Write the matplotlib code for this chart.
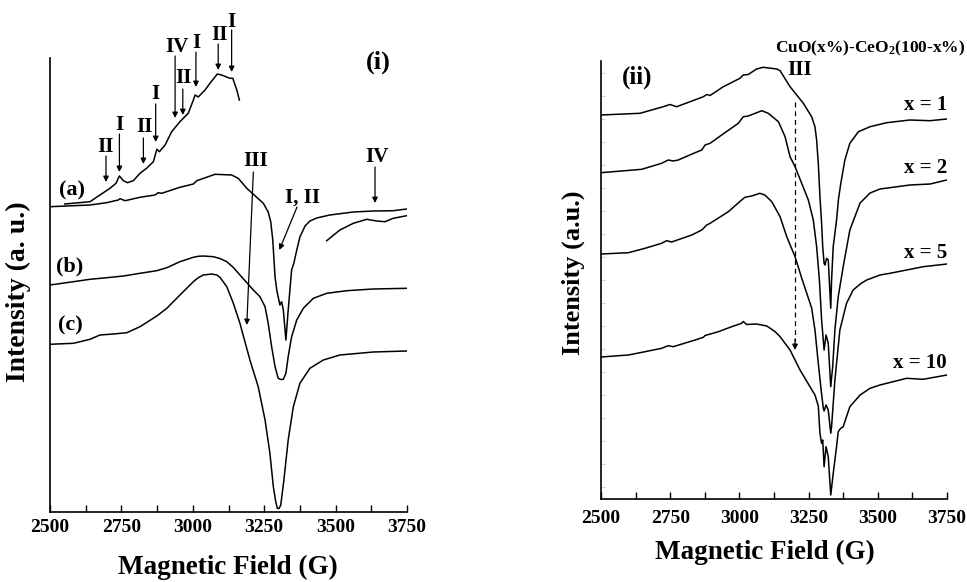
import matplotlib
matplotlib.use('Agg')
import matplotlib.pyplot as plt
from matplotlib.ticker import MultipleLocator

plt.rcParams['font.family'] = ['Liberation Serif', 'DejaVu Serif']
plt.rcParams['font.weight'] = 'bold'
plt.rcParams['mathtext.fontset'] = 'custom'
plt.rcParams['mathtext.rm'] = 'Liberation Serif:bold'
plt.rcParams['mathtext.it'] = 'Liberation Serif:bold'
plt.rcParams['mathtext.bf'] = 'Liberation Serif:bold'

# ---------------- data: panel (i) ----------------
a_field = [2500, 2640, 2698, 2739, 2745, 2763, 2815, 2868, 2879, 2891, 2955, 3002, 3014, 3078, 3136, 3159,
           3189, 3247, 3264, 3273, 3280, 3288, 3294, 3299, 3305, 3311, 3317, 3326, 3334, 3340, 3346, 3354,
           3364, 3375, 3393, 3410, 3434, 3480, 3562, 3632, 3702, 3749]
a_int = [305.3, 307, 309.3, 312, 313.3, 311.3, 314.7, 317, 319.3, 318.7, 324.7, 328, 331.3, 337.7, 337, 333.7,
         323.7, 308.7, 300, 290, 272, 235, 222, 215, 207, 210.3, 202, 172, 202, 222, 242, 249,
         262, 275, 286, 291, 294, 297, 300, 301, 301.3, 303]

ins_lo_field = [2552, 2640, 2675, 2710, 2731, 2743, 2757, 2771, 2792, 2815, 2838, 2862, 2874, 2883, 2903,
                2926, 2955, 2984, 3002, 3008, 3019, 3043, 3060, 3086, 3101, 3130, 3140, 3154, 3163]
ins_lo_int = [308, 310.3, 317, 323.7, 328.7, 336, 331.3, 329.3, 331.3, 338.7, 343.7, 350.3, 362.7, 360.3, 367,
              380.3, 390.3, 398.7, 412, 417, 415, 422, 428.7, 438, 437, 433.7, 433.7, 422, 412]

ins_hi_field = [3469, 3515, 3562, 3609, 3644, 3673, 3702, 3749]
ins_hi_int = [271.3, 282, 288.7, 292.7, 291, 290.3, 293.7, 296.3]

b_field = [2500, 2582, 2640, 2699, 2757, 2815, 2874, 2909, 2955, 3002, 3019, 3037, 3072, 3095, 3119, 3142,
           3165, 3212, 3235, 3253, 3264, 3276, 3288, 3299, 3308, 3317, 3326, 3334, 3346, 3364, 3387, 3422,
           3469, 3539, 3632, 3749]
b_int = [227, 230.3, 232.7, 234.3, 236, 238.7, 241.3, 244.3, 250.3, 254.7, 255.7, 256, 255.3, 253.5, 250.3, 244.5,
         237, 222, 215.3, 205.3, 188.7, 165.3, 145.3, 133.7, 132.5, 132.7, 138.7, 155.3, 175.3, 192, 203.7, 213.7,
         218.7, 221.3, 223, 223.7]

c_field = [2500, 2582, 2640, 2675, 2722, 2769, 2815, 2874, 2909, 2955, 3002, 3019, 3037, 3066, 3084, 3095,
           3119, 3142, 3165, 3200, 3229, 3253, 3270, 3282, 3290, 3296, 3302, 3308, 3319, 3334, 3352, 3375,
           3410, 3457, 3515, 3632, 3749]
c_int = [167.7, 168.7, 172.7, 177, 178, 179.3, 185.3, 196, 203.7, 217, 230.3, 234.3, 237, 238, 237, 234.7,
         225.3, 208.7, 188.7, 152, 125.3, 92, 58.7, 25.3, 11, 3.7, 3.5, 7, 32, 72, 105.3, 128.7,
         143.7, 152, 157, 160, 161]

# ---------------- data: panel (ii) ----------------
x1_field = [2500, 2641, 2725, 2749, 2773, 2822, 2870, 2882, 2894, 2942, 3002, 3014, 3032, 3062, 3086, 3135,
            3147, 3183, 3231, 3261, 3273, 3279, 3285, 3291, 3297, 3301, 3306, 3309, 3315, 3321, 3330, 3333,
            3339, 3351, 3358, 3366, 3381, 3399, 3430, 3472, 3532, 3616, 3689, 3749]
x1_int = [384, 385.7, 392.3, 394.5, 392.3, 397.3, 402.3, 404.5, 403.5, 412.3, 420.7, 424, 424.5, 430, 431.7, 430,
          428.3, 412.3, 395.7, 382.3, 372.3, 359, 335.7, 302.3, 275.7, 252.3, 235.7, 234, 240.7, 239, 190.7, 219,
          252.3, 279, 300, 315, 339, 355.7, 367.3, 372.3, 376.3, 379, 378.3, 380]

x2_field = [2500, 2647, 2671, 2719, 2743, 2761, 2779, 2840, 2864, 2876, 2894, 2936, 2996, 3014, 3032, 3081,
            3104, 3141, 3165, 3183, 3201, 3225, 3249, 3267, 3279, 3289, 3297, 3303, 3306, 3313, 3321, 3330,
            3337, 3345, 3357, 3375, 3399, 3436, 3472, 3508, 3616, 3689, 3749]
x2_int = [326.3, 329.7, 331.7, 335.7, 339, 338, 339, 346.3, 349, 354, 355.7, 364, 375.7, 382.3, 383, 388.3,
          385.7, 377.3, 362.3, 342.3, 332.3, 315.7, 299, 279, 252.3, 219, 179, 159, 149, 164, 155.7, 112.3,
          132.3, 169, 202.3, 232.3, 269, 296, 306, 310, 314, 315, 319]

x5_field = [2500, 2599, 2659, 2719, 2737, 2755, 2828, 2864, 2882, 2894, 2960, 3008, 3020, 3044, 3074, 3092,
            3117, 3147, 3171, 3201, 3225, 3249, 3261, 3273, 3285, 3294, 3303, 3306, 3313, 3321, 3330, 3333,
            3345, 3363, 3387, 3411, 3428, 3442, 3460, 3508, 3544, 3664, 3750]
x5_int = [245, 246.3, 250.7, 255.7, 258.3, 257, 264, 269, 274, 275.7, 287.3, 299, 301.7, 303, 305.7, 304,
          297.3, 282.3, 262.3, 242.3, 221, 201, 191, 169, 135.7, 112.3, 91, 88, 94, 89, 65.7, 72.3,
          119, 169, 195.7, 209, 213, 216, 219, 224, 225.7, 232.3, 235]

x10_field = [2500, 2599, 2659, 2719, 2743, 2761, 2840, 2870, 2876, 2924, 2972, 3008, 3014, 3026, 3062, 3099,
             3129, 3147, 3183, 3219, 3255, 3273, 3285, 3291, 3297, 3301, 3306, 3313, 3321, 3330, 3339, 3351,
             3357, 3366, 3375, 3399, 3436, 3472, 3508, 3604, 3664, 3750]
x10_int = [142, 144, 147.3, 150.7, 153.3, 152.3, 159, 161.7, 163.5, 167.3, 172.3, 175.7, 177.5, 174.5, 175, 173,
           167.3, 162.3, 149, 129, 112.3, 104, 93, 65.7, 55.7, 59, 32.3, 52.3, 42.3, 4, 25.7, 52.3,
           67.3, 70.7, 72.3, 92.3, 104, 110.7, 114, 120.7, 119.7, 124]

xticks = [2500, 2750, 3000, 3250, 3500, 3750]
xlabel = 'Magnetic Field (G)'
series_labels = ['x = 1', 'x = 2', 'x = 5', 'x = 10']

# ---------------- figure ----------------
W, H = 967, 582
fig = plt.figure(figsize=(W / 100, H / 100), dpi=100)
ax1 = fig.add_axes([50 / W, 1 - 512 / H, 357 / W, 454 / H])
ax2 = fig.add_axes([601 / W, 1 - 499 / H, 346 / W, 438 / H])

for ax in (ax1, ax2):
    ax.spines['top'].set_visible(False)
    ax.spines['right'].set_visible(False)
    ax.spines['left'].set_linewidth(1.2)
    ax.spines['bottom'].set_linewidth(1.2)
    ax.set_xlim(2500, 3750)
    ax.set_xticks(xticks)
    ax.xaxis.set_minor_locator(MultipleLocator(125))
    ax.tick_params(axis='x', which='both', direction='in', length=5, width=1, labelsize=14)
    ax.set_yticks([])
    for lbl in ax.get_xticklabels():
        lbl.set_fontweight('bold')
ax1.tick_params(axis='x', which='both', pad=5)
ax2.tick_params(axis='x', which='both', pad=8)
ax1.set_ylim(0, 454)
ax2.set_ylim(0, 438)
ax2.set_yticks(list(range(12, 438, 23)), minor=False)
ax2.tick_params(axis='y', direction='in', length=3, width=0.6, color='#c8c8c8', labelleft=False)

lw = 1.1
ax1.plot(a_field, a_int, color='k', lw=lw)
ax1.plot(ins_lo_field, ins_lo_int, color='k', lw=lw, clip_on=False)
ax1.plot(ins_hi_field, ins_hi_int, color='k', lw=lw)
ax1.plot(b_field, b_int, color='k', lw=lw)
ax1.plot(c_field, c_int, color='k', lw=lw)

for f, i in ((x1_field, x1_int), (x2_field, x2_int), (x5_field, x5_int), (x10_field, x10_int)):
    ax2.plot(f, i, color='k', lw=lw)

AP = dict(arrowstyle='-|>', color='k', lw=0.9, mutation_scale=8, shrinkA=0, shrinkB=0)

def label_arrow(ax, txt, txy, start, end, fs=15):
    ax.text(txy[0], txy[1], txt, ha='center', va='center', fontsize=fs, fontweight='bold', clip_on=False)
    ax.annotate('', xy=end, xytext=start, arrowprops=AP, annotation_clip=False)

# inset peak markers
label_arrow(ax1, 'II', (2696, 365), (2696, 356), (2696, 330))
label_arrow(ax1, 'I', (2743, 387), (2743, 378), (2743, 340))
label_arrow(ax1, 'II', (2830, 385), (2827, 374), (2827, 348))
label_arrow(ax1, 'I', (2868, 418), (2870, 408), (2870, 370))
label_arrow(ax1, 'IV', (2944, 465), (2938, 456), (2938, 394))
label_arrow(ax1, 'II', (2967, 434), (2965, 423), (2965, 397))
label_arrow(ax1, 'I', (3011, 469), (3011, 460), (3011, 425))
label_arrow(ax1, 'II', (3093, 477), (3089, 468), (3089, 442))
label_arrow(ax1, 'I', (3136, 490), (3136, 482), (3136, 440))

label_arrow(ax1, 'III', (3221, 351), (3212, 340), (3189, 187))
label_arrow(ax1, 'I, II', (3386, 314), (3365, 305), (3303, 262))
label_arrow(ax1, 'IV', (3644, 355), (3638, 345), (3638, 309))

ax1.text(3649, 450, '(i)', ha='center', va='center', fontsize=19, fontweight='bold', clip_on=False)
ax1.text(2576, 322, '(a)', ha='center', va='center', fontsize=16, fontweight='bold')
ax1.text(2570, 246, '(b)', ha='center', va='center', fontsize=16, fontweight='bold')
ax1.text(2570, 187, '(c)', ha='center', va='center', fontsize=16, fontweight='bold')

# panel (ii) annotations
ax2.text(2629, 422, '(ii)', ha='center', va='center', fontsize=18, fontweight='bold')
ax2.text(3219, 429, 'III', ha='center', va='center', fontsize=15, fontweight='bold')
ax2.text(3472, 451, 'CuO(x%)-CeO$_{2}$(100-x%)', ha='center', va='center', fontsize=12.5,
         fontweight='bold', clip_on=False)
for lbl, yv in zip(series_labels, [394, 331, 246, 136]):
    ax2.text(3750, yv, lbl, ha='right', va='center', fontsize=15, fontweight='bold')
ax2.plot([3201, 3201], [397, 158], color='k', lw=0.9, linestyle=(0, (4, 3)))
ax2.annotate('', xy=(3201, 149), xytext=(3201, 160),
             arrowprops=dict(arrowstyle='-|>', color='k', lw=0.9, mutation_scale=8, shrinkA=0, shrinkB=0))

# axis titles
fig.text(228 / W, 1 - 567 / H, xlabel, ha='center', va='center', fontsize=19.5, fontweight='bold')
fig.text(765 / W, 1 - 552 / H, xlabel, ha='center', va='center', fontsize=19.5, fontweight='bold')
fig.text(18 / W, 1 - 292 / H, 'Intensity (a. u.)', ha='center', va='center', rotation=90,
         fontsize=20, fontweight='bold')
fig.text(573 / W, 1 - 273 / H, 'Intensity (a.u.)', ha='center', va='center', rotation=90,
         fontsize=19, fontweight='bold')

fig.savefig('out.png', dpi=100)
